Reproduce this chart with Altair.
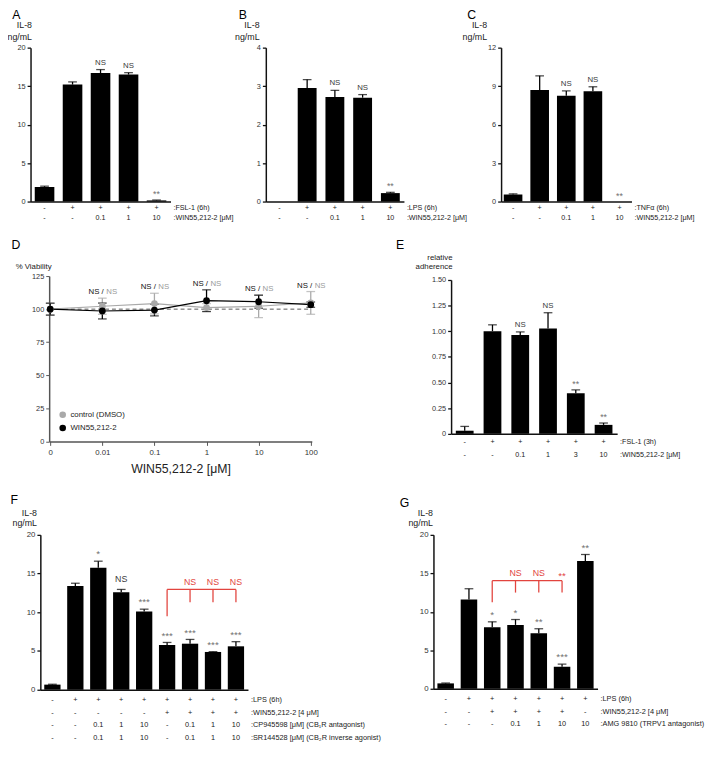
import altair as alt
import pandas as pd

SX = 0.985
SY = 0.975
FONT = "Liberation Sans"
RED = "#e2443e"


def pxx(v):
    return round(v * SX, 1)


def pxy(v):
    return round(v * SY, 1)


# ---------------- data ----------------
# Panel A
A_vals = [1.9, 15.2, 16.7, 16.5, 0.15]
A_errs = [0.1, 0.35, 0.45, 0.25, 0.05]
A_annot = ["", "", "NS", "NS", "**"]
A_rows = [["-", "+", "+", "+", "+"], ["-", "-", "0.1", "1", "10"]]
A_rownames = [":FSL-1 (6h)", ":WIN55,212-2 [μM]"]
A_ticks = [0, 5, 10, 15, 20]

# Panel B
B_vals = [0.0, 2.95, 2.72, 2.7, 0.22]
B_errs = [0.0, 0.22, 0.17, 0.08, 0.02]
B_annot = ["", "", "NS", "NS", "**"]
B_rows = [["-", "+", "+", "+", "+"], ["-", "-", "0.1", "1", "10"]]
B_rownames = [":LPS (6h)", ":WIN55,212-2 [μM]"]
B_ticks = [0, 1, 2, 3, 4]

# Panel C
C_vals = [0.55, 8.7, 8.25, 8.6, 0.0]
C_errs = [0.05, 1.1, 0.38, 0.35, 0.0]
C_annot = ["", "", "NS", "NS", "**"]
C_rows = [["-", "+", "+", "+", "+"], ["-", "-", "0.1", "1", "10"]]
C_rownames = [":TNFα (6h)", ":WIN55,212-2 [μM]"]
C_ticks = [0, 3, 6, 9, 12]

# Panel D
D_conc = ["0", "0.01", "0.1", "1", "10", "100"]
D_series = ["control (DMSO)", "WIN55,212-2"]
D_colors = ["#a9a9a9", "#000000"]
D_ctrl = [100, 102.2, 104.2, 101.2, 102.2, 104.7]
D_ctrl_err = [4.5, 6.1, 7.8, 3.0, 8.6, 8.6]
D_win = [100, 98.6, 99.3, 106.4, 105.6, 103.4]
D_win_err = [4.5, 6.0, 4.4, 8.2, 4.9, 2.0]
D_ticks = [0, 25, 50, 75, 100, 125]

# Panel E
E_vals = [0.03, 1.0, 0.962, 1.027, 0.396, 0.087]
E_errs = [0.042, 0.062, 0.031, 0.153, 0.031, 0.018]
E_annot = ["", "", "NS", "NS", "**", "**"]
E_rows = [["-", "+", "+", "+", "+", "+"], ["-", "-", "0.1", "1", "3", "10"]]
E_rownames = [":FSL-1 (3h)", ":WIN55,212-2 [μM]"]
E_ticks = [0, 0.25, 0.5, 0.75, 1.0, 1.25, 1.5]

# Panel F
F_vals = [0.65, 13.4, 15.75, 12.6, 10.1, 5.77, 5.94, 4.87, 5.6]
F_errs = [0.05, 0.35, 0.85, 0.35, 0.3, 0.33, 0.55, 0.04, 0.6]
F_annot = ["", "", "*", "NS", "***", "***", "***", "***", "***"]
F_rows = [
    ["-", "+", "+", "+", "+", "+", "+", "+", "+"],
    ["-", "-", "-", "-", "-", "+", "+", "+", "+"],
    ["-", "-", "0.1", "1", "10", "-", "0.1", "1", "10"],
    ["-", "-", "0.1", "1", "10", "-", "0.1", "1", "10"],
]
F_rownames = [
    ":LPS (6h)",
    ":WIN55,212-2 [4 μM]",
    ":CP945598 [μM] (CB₁R antagonist)",
    ":SR144528 [μM] (CB₂R inverse agonist)",
]
F_ticks = [0, 5, 10, 15, 20]
F_bracket_from = 5
F_bracket_to = [6, 7, 8]
F_bracket_labels = ["NS", "NS", "NS"]
F_bracket_levels = [12.95, 9.5, 11.3]   # bar line, start foot, tick foot

# Panel G
G_vals = [0.7, 11.6, 8.0, 8.3, 7.2, 2.85, 16.6]
G_errs = [0.05, 1.4, 0.7, 0.7, 0.6, 0.35, 0.85]
G_annot = ["", "", "*", "*", "**", "***", "**"]
G_rows = [
    ["-", "+", "+", "+", "+", "+", "+"],
    ["-", "-", "+", "+", "+", "+", "-"],
    ["-", "-", "-", "0.1", "1", "10", "10"],
]
G_rownames = [":LPS (6h)", ":WIN55,212-2 [4 μM]", ":AMG 9810 (TRPV1 antagonist)"]
G_ticks = [0, 5, 10, 15, 20]
G_bracket_from = 2
G_bracket_to = [3, 4, 5]
G_bracket_labels = ["NS", "NS", "**"]
G_bracket_levels = [14.05, 11.25, 12.5]


# ---------------- builders ----------------
def spacer(w):
    return alt.Chart(pd.DataFrame({"v": [0]})).mark_point(opacity=0, size=1).encode(
        x=alt.value(0), y=alt.value(0)).properties(width=w, height=1)


def bar_panel(letter, vals, errs, annots, rows, rownames, ymax, yticks,
              w, h, pad_in, pad_out, ytitle, title_dx, title_dy, title_lh, title_fs,
              letter_dx, letter_dy, row_dys, row_fs=7.3, label_fs=7.5, annot_fs=8,
              ns_dy=-5, star_dy=-3, label_expr=None, bracket=None, top_gap=0):
    ids = [f"b{i}" for i in range(len(vals))]
    df = pd.DataFrame({"id": ids, "value": vals, "err": errs, "annot": annots})
    df["top"] = df["value"] + df["err"]
    base = alt.Chart(df)
    W, H = pxx(w), pxy(h)

    x_axis = alt.Axis(labels=False, ticks=False, title=None,
                      domainColor="#111", domainWidth=1.5)
    x_scale = alt.Scale(paddingInner=pad_in, paddingOuter=pad_out)
    yaxis_kw = dict(
        values=yticks, title=ytitle, titleAngle=0, titleAlign="right",
        titleBaseline="middle", titleX=pxx(title_dx), titleY=pxy(title_dy),
        titleLineHeight=title_lh, titleFontSize=title_fs, titleFontWeight="normal",
        titleColor="#222", labelFontSize=label_fs, labelColor="#333", tickSize=3.5,
        tickColor="#111", tickWidth=1.3, domainColor="#111", domainWidth=1.5,
        grid=False, labelPadding=2,
    )
    if label_expr:
        yaxis_kw["labelExpr"] = label_expr
    y_axis = alt.Axis(**yaxis_kw)
    if top_gap:
        y_scale = alt.Scale(domain=[0, ymax], nice=False, range=[H, pxy(top_gap)])
    else:
        y_scale = alt.Scale(domain=[0, ymax], nice=False)

    def xe():
        return alt.X("id:N", sort=ids, scale=x_scale, axis=x_axis)

    def ye(field):
        return alt.Y(field, scale=y_scale, axis=y_axis)

    bars = base.mark_bar(color="black").encode(x=xe(), y=ye("value:Q"))
    with_err = base.transform_filter("datum.err > 0")
    err_rule = with_err.mark_rule(color="black", strokeWidth=1.3).encode(
        x=xe(), y=ye("value:Q"), y2="top:Q")
    caps = with_err.mark_tick(color="black", thickness=1.3, size=pxx(9),
                              orient="horizontal").encode(x=xe(), y=ye("top:Q"))
    ns = base.transform_filter("datum.annot == 'NS'").mark_text(
        baseline="alphabetic", dy=ns_dy, fontSize=annot_fs, color="#3a3a3a").encode(
        x=xe(), y=ye("top:Q"), text="annot:N")
    stars = base.transform_filter("indexof(datum.annot, '*') >= 0").mark_text(
        baseline="alphabetic", dy=star_dy, fontSize=annot_fs + 1, color="#707070").encode(
        x=xe(), y=ye("top:Q"), text="annot:N")
    layers = [bars, err_rule, caps, ns, stars]

    for labs, name, dy in zip(rows, rownames, row_dys):
        rdf = pd.DataFrame({"id": ids, "lab": labs})
        layers.append(alt.Chart(rdf).mark_text(
            fontSize=row_fs, baseline="middle", color="#222").encode(
            x=xe(), y=alt.value(H + pxy(dy)), text="lab:N"))
        layers.append(alt.Chart(pd.DataFrame({"t": [name]})).mark_text(
            fontSize=row_fs, baseline="middle", align="left", color="#222").encode(
            x=alt.value(W + pxx(3)), y=alt.value(H + pxy(dy)), text="t:N"))

    if bracket is not None:
        b_from, b_to, b_labels, (lvl, foot0, foot1), lab_fs = bracket
        hdf = pd.DataFrame({"id": [ids[b_from], ids[b_to[-1]]], "y": [lvl, lvl]})
        layers.append(alt.Chart(hdf).mark_line(color=RED, strokeWidth=1.3).encode(
            x=xe(), y=ye("y:Q")))
        vdf = pd.DataFrame({
            "id": [ids[b_from]] + [ids[i] for i in b_to],
            "lo": [foot0] + [foot1] * len(b_to),
            "hi": [lvl] * (len(b_to) + 1),
        })
        layers.append(alt.Chart(vdf).mark_rule(color=RED, strokeWidth=1.3).encode(
            x=xe(), y=ye("lo:Q"), y2="hi:Q"))
        ldf = pd.DataFrame({"id": [ids[i] for i in b_to], "t": b_labels, "y": [lvl] * len(b_to)})
        lb = alt.Chart(ldf)
        layers.append(lb.transform_filter("datum.t == 'NS'").mark_text(
            color=RED, fontSize=lab_fs, baseline="alphabetic", dy=-4.5).encode(
            x=xe(), y=ye("y:Q"), text="t:N"))
        layers.append(lb.transform_filter("datum.t != 'NS'").mark_text(
            color=RED, fontSize=lab_fs + 1, baseline="alphabetic", dy=-2).encode(
            x=xe(), y=ye("y:Q"), text="t:N"))

    layers.append(alt.Chart(pd.DataFrame({"t": [letter]})).mark_text(
        fontSize=12.5, align="left", baseline="alphabetic", color="black").encode(
        x=alt.value(pxx(letter_dx)), y=alt.value(pxy(letter_dy)), text="t:N"))
    return alt.layer(*layers).properties(width=W, height=H)


def viability_panel():
    recs = []
    for s, means, errs in [(D_series[0], D_ctrl, D_ctrl_err), (D_series[1], D_win, D_win_err)]:
        for c, m, e in zip(D_conc, means, errs):
            recs.append({"conc": c, "series": s, "mean": m, "lo": m - e, "hi": m + e})
    df = pd.DataFrame(recs)
    W, H = pxx(272), pxy(173)
    base = alt.Chart(df)
    col = alt.Color("series:N", scale=alt.Scale(domain=D_series, range=D_colors), legend=None)

    x_axis = alt.Axis(title="WIN55,212-2  [μM]", titleFontSize=12.5,
                      titleFontWeight="normal", titleColor="#222",
                      labelAngle=0, labelFontSize=8, labelColor="#333",
                      tickSize=4, tickColor="#555", domainColor="#555",
                      domainWidth=1.5, labelPadding=3, titlePadding=7)
    x_scale = alt.Scale(type="point", padding=0.02)
    y_axis = alt.Axis(values=D_ticks, title="% Viability", titleAngle=0,
                      titleAlign="right", titleBaseline="middle",
                      titleX=pxx(2), titleY=pxy(-10), titleFontSize=8,
                      titleFontWeight="normal", titleColor="#222",
                      labelFontSize=7.5, labelColor="#333", tickSize=3.5,
                      tickColor="#555", domainColor="#555", domainWidth=1.5,
                      grid=False, labelPadding=2)
    y_scale = alt.Scale(domain=[0, 125], nice=False)

    def xe():
        return alt.X("conc:N", sort=D_conc, scale=x_scale, axis=x_axis)

    def ye(field):
        return alt.Y(field, scale=y_scale, axis=y_axis)

    ref = alt.Chart(pd.DataFrame({"conc": [D_conc[0], D_conc[-1]], "v": [100, 100]})).mark_line(
        strokeDash=[4, 3], color="#555", strokeWidth=1).encode(x=xe(), y=ye("v:Q"))
    err = base.mark_rule(strokeWidth=1.3).encode(x=xe(), y=ye("lo:Q"), y2="hi:Q", color=col)
    cap_lo = base.mark_tick(thickness=1.3, size=pxx(9), orient="horizontal").encode(
        x=xe(), y=ye("lo:Q"), color=col)
    cap_hi = base.mark_tick(thickness=1.3, size=pxx(9), orient="horizontal").encode(
        x=xe(), y=ye("hi:Q"), color=col)
    line = base.mark_line(strokeWidth=1.2).encode(x=xe(), y=ye("mean:Q"), color=col)
    pts = base.mark_circle(size=48, opacity=1).encode(x=xe(), y=ye("mean:Q"), color=col)

    tops = df.groupby("conc", sort=False)["hi"].max().reset_index()
    tops = tops[tops["conc"] != "0"]
    tops["a"] = "NS /"
    tops["b"] = "NS"
    tb = alt.Chart(tops)
    t1 = tb.mark_text(fontSize=8, align="right", baseline="alphabetic", dx=1.5, dy=-4,
                      color="#111").encode(x=xe(), y=ye("hi:Q"), text="a:N")
    t2 = tb.mark_text(fontSize=8, align="left", baseline="alphabetic", dx=4, dy=-4,
                      color="#9a9a9a").encode(x=xe(), y=ye("hi:Q"), text="b:N")
    layers = [ref, err, cap_lo, cap_hi, line, pts, t1, t2]

    # legend (inside plot, bottom-left)
    for i, (name, color) in enumerate(zip(D_series, D_colors)):
        ldf = pd.DataFrame({"t": [name]})
        layers.append(alt.Chart(ldf).mark_circle(size=45, color=color, opacity=1).encode(
            x=alt.value(pxx(14)), y=alt.value(pxy(145 + 14 * i))))
        layers.append(alt.Chart(ldf).mark_text(
            fontSize=8, align="left", baseline="middle", color="#222").encode(
            x=alt.value(pxx(22)), y=alt.value(pxy(145 + 14 * i)), text="t:N"))

    layers.append(alt.Chart(pd.DataFrame({"t": ["D"]})).mark_text(
        fontSize=12.5, align="left", baseline="alphabetic", color="black").encode(
        x=alt.value(pxx(-39)), y=alt.value(pxy(-28)), text="t:N"))
    return alt.layer(*layers).properties(width=W, height=H)


IL8 = ["IL-8", "ng/mL"]

pA = bar_panel("A", A_vals, A_errs, A_annot, A_rows, A_rownames, 20, A_ticks,
               145, 161, 0.3, 0.15, IL8, 1, -24, 12, 9, -19, -29.5, [7, 17])
pB = bar_panel("B", B_vals, B_errs, B_annot, B_rows, B_rownames, 4, B_ticks,
               143, 161, 0.32, 0.15, IL8, -7, -24.3, 12.5, 9, -28, -29.5, [7, 17])
pC = bar_panel("C", C_vals, C_errs, C_annot, C_rows, C_rownames, 12, C_ticks,
               135, 161, 0.3, 0.1, IL8, -15, -24, 12, 9, -35, -29.5, [7, 17])
pD = viability_panel()
pE = bar_panel("E", E_vals, E_errs, E_annot, E_rows, E_rownames, 1.5, E_ticks,
               172, 165, 0.36, 0.17, ["relative", "adherence"], 1, -19, 9, 8,
               -57, -28, [9, 22], top_gap=4,
               label_expr="datum.value == 0 ? '0' : format(datum.value, '.2f')")
pF = bar_panel("F", F_vals, F_errs, F_annot, F_rows, F_rownames, 20, F_ticks,
               215, 162, 0.29, 0.17, IL8, -4, -23, 10, 9, -31, -32, [11, 24, 37, 51],
               row_fs=7.5, label_fs=8, annot_fs=9, ns_dy=-7.5, star_dy=-4,
               bracket=(F_bracket_from, F_bracket_to, F_bracket_labels, F_bracket_levels, 9))
pG = bar_panel("G", G_vals, G_errs, G_annot, G_rows, G_rownames, 20, G_ticks,
               170, 161, 0.29, 0.17, IL8, -1, -23, 9.5, 9, -35, -29, [11, 24, 37],
               row_fs=7.5, label_fs=8, annot_fs=9, ns_dy=-7.5, star_dy=-4,
               bracket=(G_bracket_from, G_bracket_to, G_bracket_labels, G_bracket_levels, 9))

row1 = alt.hconcat(pA, spacer(pxx(98)), pB, spacer(pxx(100)), pC, spacing=0, bounds="flush")
row2 = alt.hconcat(spacer(pxx(19)), pD, spacer(pxx(144)), pE, spacing=0, bounds="flush")
row3 = alt.hconcat(spacer(pxx(10)), pF, spacer(pxx(191)), pG, spacing=0, bounds="flush")

chart = alt.vconcat(row1, row2, row3, spacing=18).properties(
    padding={"left": -2, "top": -6, "right": 0, "bottom": 0}
).configure(font=FONT).configure_view(stroke=None).configure_axis(
    labelFont=FONT, titleFont=FONT
).configure_text(font=FONT)

chart.save("out.html", embed_options={"renderer": "svg", "actions": False})
